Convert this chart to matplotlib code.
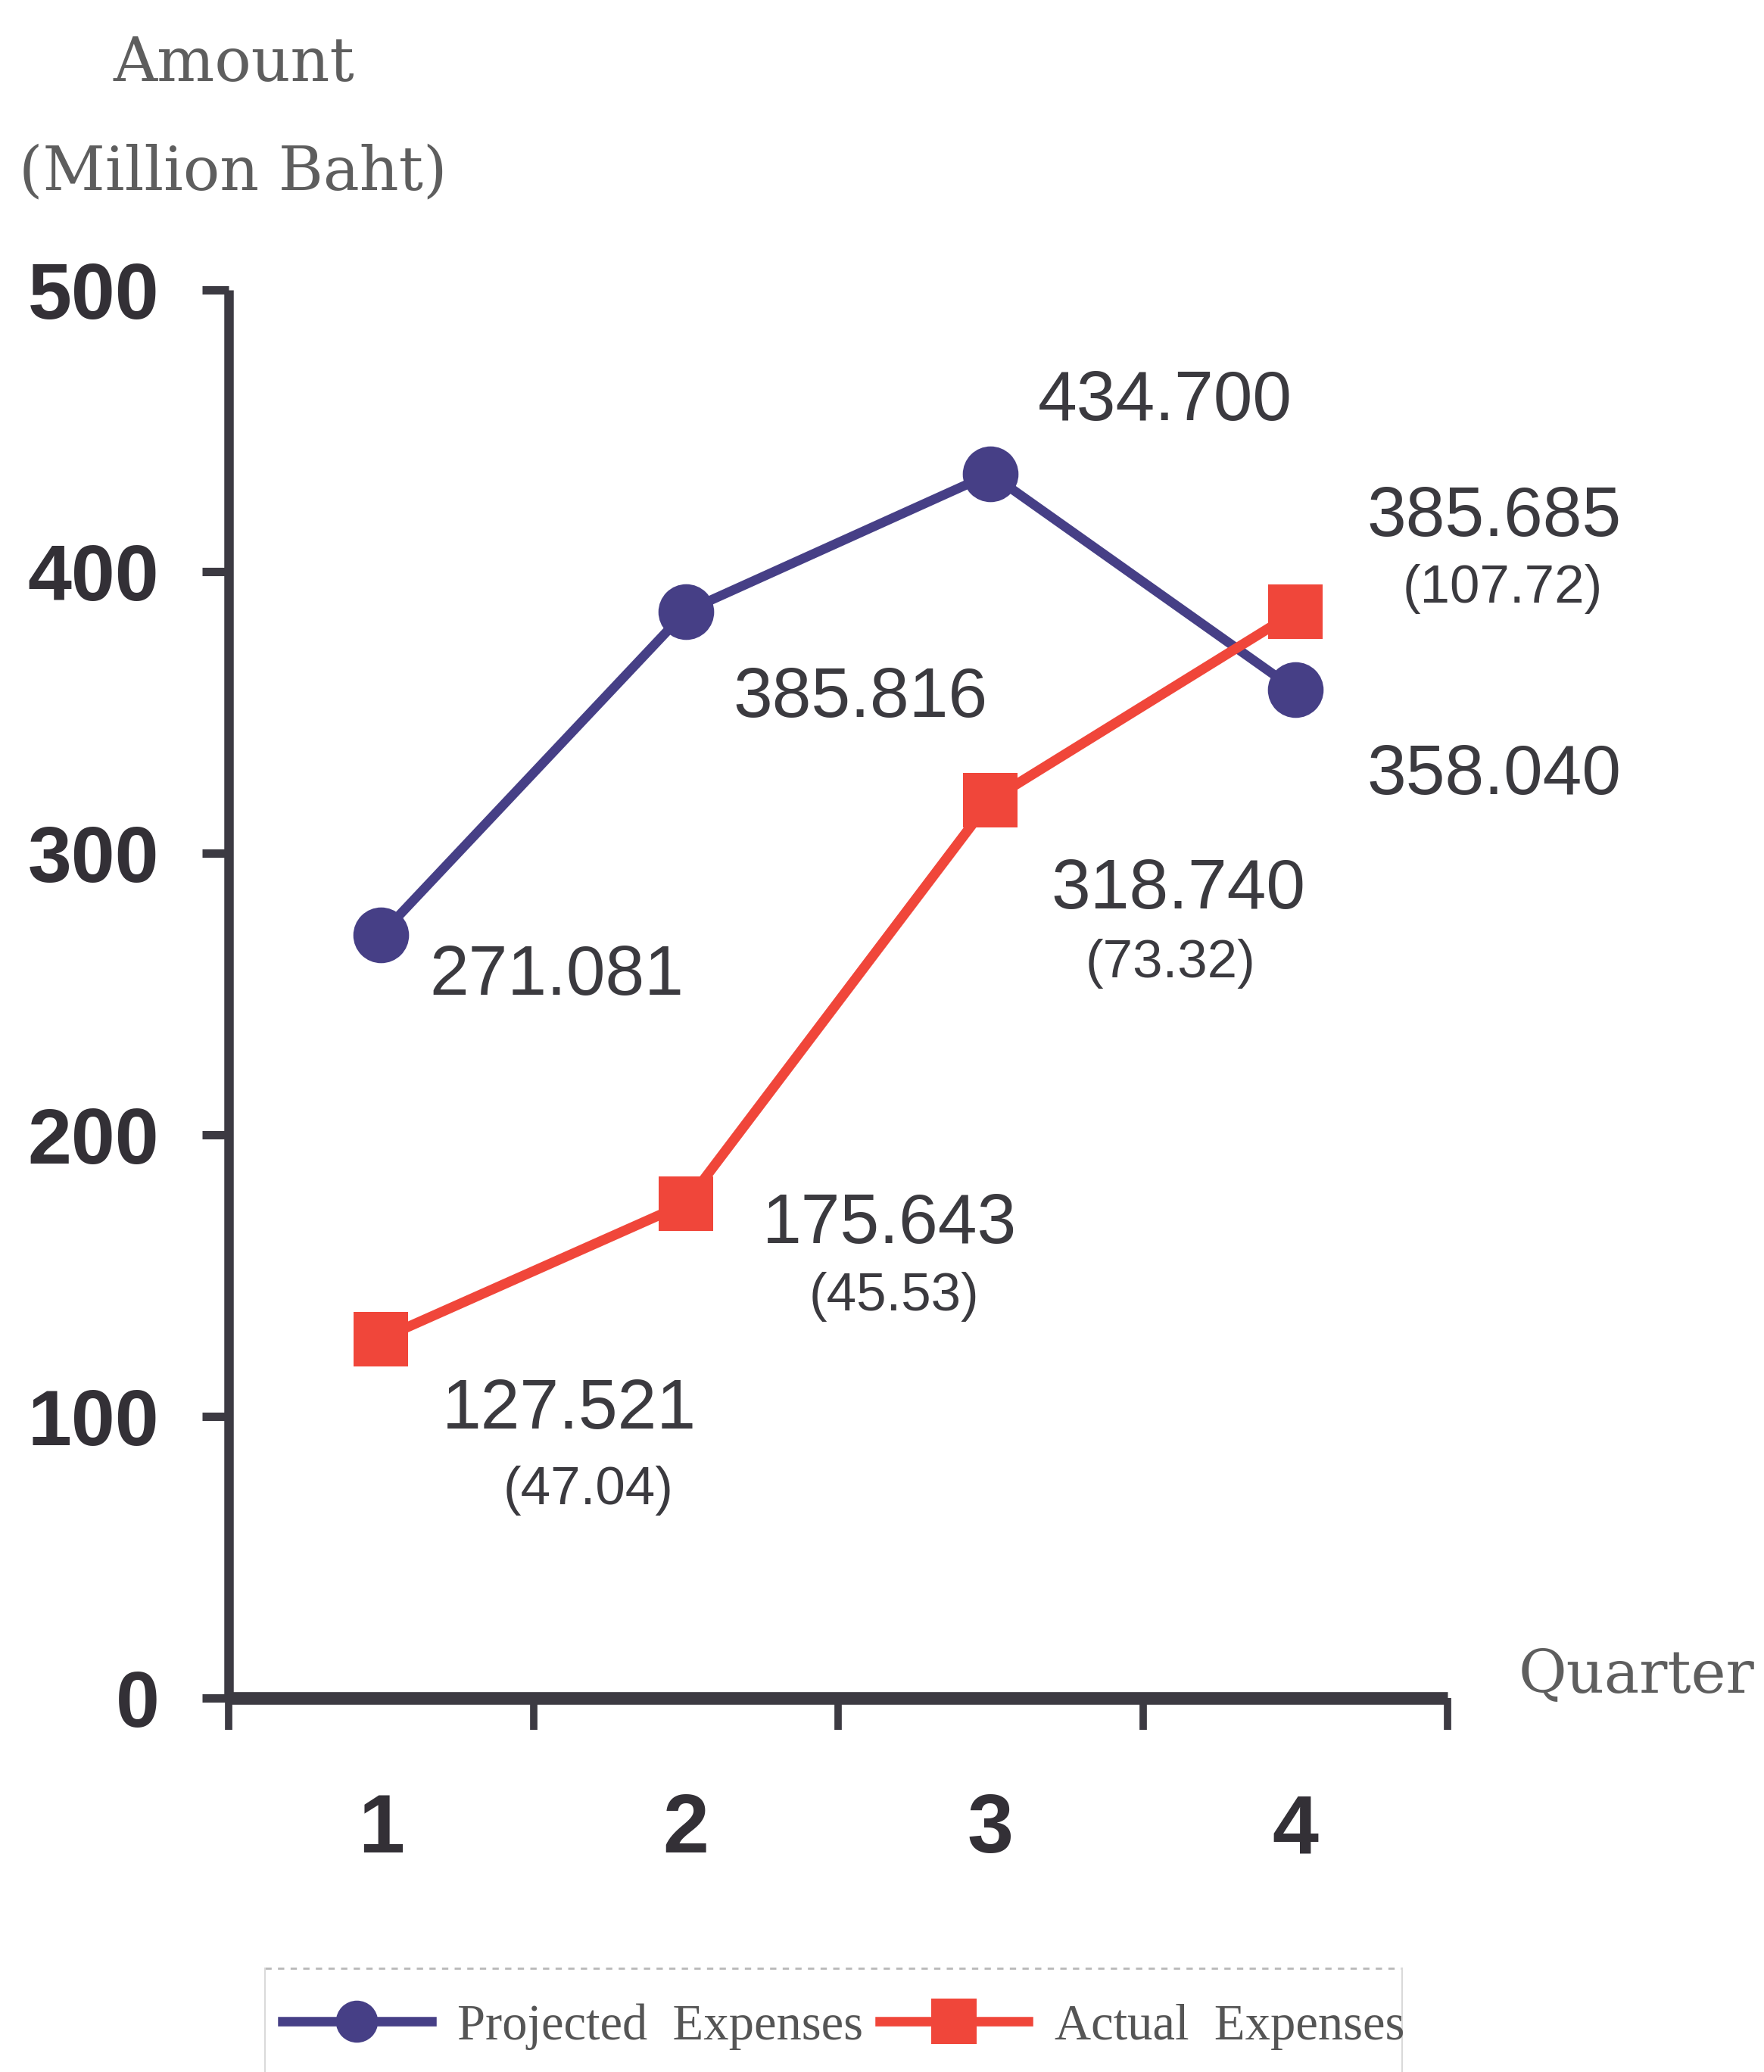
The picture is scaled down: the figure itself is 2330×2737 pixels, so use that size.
import matplotlib
matplotlib.use("Agg")
import matplotlib.pyplot as plt
from matplotlib.lines import Line2D

# ---- data ----
quarters = [1, 2, 3, 4]
quarter_labels = ["1", "2", "3", "4"]
projected = [271.081, 385.816, 434.700, 358.040]
actual = [127.521, 175.643, 318.740, 385.685]
actual_sub = ["(47.04)", "(45.53)", "(73.32)", "(107.72)"]
y_ticks = [0, 100, 200, 300, 400, 500]

# label offsets (points) relative to each marker: (dx, dy) for the value text
proj_offsets = [(167, -57), (166, -100), (166, 51), (189, -99)]
act_offsets = [(179, -85), (194, -38), (179, -103), (189, 72)]
act_sub_offsets = [(197, -157), (198, -102), (171, -168), (197, 9)]

W, H = 2330, 2737
BLUE = "#463f86"
RED = "#f0463a"
AXIS = "#3c3a42"
TXT = "#3b3a3f"
TITLE = "#5e5e5e"
SANS = "Liberation Sans"
SERIF = "DejaVu Serif"

fig = plt.figure(figsize=(W / 100, H / 100), dpi=100)
fig.patch.set_facecolor("white")

left, right, bottom, top = 302, 1912, 2243, 383
ax = fig.add_axes([left / W, 1 - bottom / H, (right - left) / W, (bottom - top) / H])
ax.set_facecolor("none")
ax.set_xlim(0.5, 4.5)
ax.set_ylim(0, 500)

for s in ("top", "right"):
    ax.spines[s].set_visible(False)
ax.spines["left"].set_linewidth(9)
ax.spines["bottom"].set_linewidth(12)
for s in ("left", "bottom"):
    ax.spines[s].set_color(AXIS)
    ax.spines[s].set_capstyle("butt")

# y axis ticks
ax.set_yticks(y_ticks)
ax.set_yticklabels([str(v) for v in y_ticks])
ax.tick_params(axis="y", direction="out", length=25, width=8, color=AXIS, pad=41,
               labelsize=75, labelcolor="#333036")
for lab in ax.get_yticklabels():
    lab.set_fontfamily(SANS)
    lab.set_fontweight("bold")

# x axis: boundary ticks (major) and centred category labels (minor)
ax.set_xticks([0.5, 1.5, 2.5, 3.5, 4.5])
ax.set_xticklabels([])
ax.set_xticks(quarters, minor=True)
ax.set_xticklabels(quarter_labels, minor=True)
ax.tick_params(axis="x", which="major", direction="out", length=30, width=7, color=AXIS)
ax.tick_params(axis="x", which="minor", length=0, pad=90, labelsize=79, labelcolor="#333036")
for lab in ax.get_xticklabels(minor=True):
    lab.set_fontfamily(SANS)
    lab.set_fontweight("bold")

# series
ax.plot(quarters, projected, color=BLUE, lw=9, marker="o", ms=53,
        markeredgewidth=0, zorder=3, solid_joinstyle="round")
ax.plot(quarters, actual, color=RED, lw=9.5, marker="s", ms=52,
        markeredgewidth=0, zorder=4)

# value labels
for x, v, off in zip(quarters, projected, proj_offsets):
    ax.annotate(f"{v:.3f}", xy=(x, v), xytext=off, textcoords="offset points",
                ha="center", va="baseline", fontsize=67, family=SANS, color=TXT,
                annotation_clip=False)
for x, v, off, sub, soff in zip(quarters, actual, act_offsets, actual_sub, act_sub_offsets):
    ax.annotate(f"{v:.3f}", xy=(x, v), xytext=off, textcoords="offset points",
                ha="center", va="baseline", fontsize=67, family=SANS, color=TXT,
                annotation_clip=False)
    ax.annotate(sub, xy=(x, v), xytext=soff, textcoords="offset points",
                ha="center", va="baseline", fontsize=51, family=SANS, color=TXT,
                annotation_clip=False)

# axis titles
fig.text(309 / W, 1 - 107 / H, "Amount", ha="center", va="baseline",
         fontsize=58, family=SERIF, color=TITLE)
fig.text(308 / W, 1 - 250 / H, "(Million Baht)", ha="center", va="baseline",
         fontsize=58, family=SERIF, color=TITLE)
fig.text(2006 / W, 1 - 2236 / H, "Quarter", ha="left", va="baseline",
         fontsize=56, family=SERIF, color=TITLE)

# legend
handles = [
    Line2D([], [], color=BLUE, lw=9, marker="o", ms=40, markeredgewidth=0),
    Line2D([], [], color=RED, lw=9, marker="s", ms=43, markeredgewidth=0),
]
fig.legend(handles, ["Projected  Expenses", "Actual  Expenses"],
           loc="center left", bbox_to_anchor=(373 / W, 1 - 2677 / H),
           bbox_transform=fig.transFigure, ncol=2, frameon=False,
           prop={"family": "Liberation Serif", "size": 48}, labelcolor="#555555",
           handlelength=2.95, handletextpad=0.52, columnspacing=0.32,
           borderpad=0, borderaxespad=0, numpoints=1)

# legend box outline
fig.add_artist(Line2D([350 / W, 1852 / W], [1 - 2600 / H, 1 - 2600 / H],
                      transform=fig.transFigure, color="#b8b8b8", lw=2,
                      linestyle=(0, (3, 3))))
for xb in (350, 1852):
    fig.add_artist(Line2D([xb / W, xb / W], [1 - 2600 / H, 0],
                          transform=fig.transFigure, color="#dadada", lw=1.5))

fig.savefig("out.png", dpi=100, facecolor="white")
